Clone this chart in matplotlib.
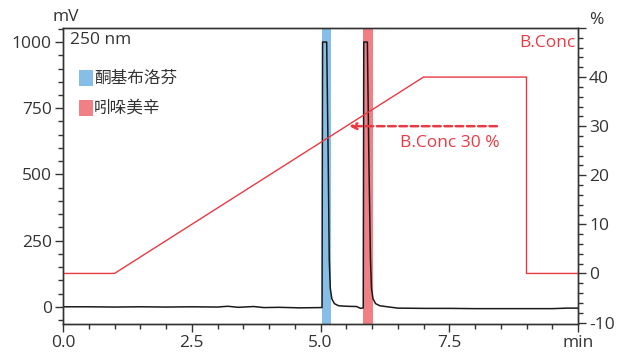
import matplotlib.pyplot as plt
from matplotlib.ticker import MultipleLocator

# chromatogram trace (min, mV)
time_min = [0.0, 0.5, 1.0, 1.5, 2.0, 2.5, 3.0, 3.2, 3.4, 3.7, 3.9, 4.2, 4.6, 5.0, 5.03,
            5.04, 5.12, 5.15, 5.17, 5.19, 5.22, 5.27, 5.35, 5.5, 5.7, 5.78, 5.83,
            5.84, 5.91, 5.94, 5.97, 5.99, 6.02, 6.07, 6.15, 6.3, 6.5, 7.0, 7.5, 8.0,
            8.5, 9.0, 9.5, 9.8, 10.0]
signal_mv = [0, 0, -1, 0, -1, 0, -1, 2, -2, 1, -3, -2, -4, -3, -3,
             1000, 1000, 550, 180, 70, 30, 12, 4, 2, 1, -6, -4,
             1000, 1000, 550, 180, 70, 30, 12, 4, 0, -5, -6, -6, -7,
             -7, -7, -7, -5, -5]

# gradient program (min, %B)
grad_time = [0.0, 1.0, 7.0, 9.0, 9.0, 10.0]
grad_conc = [0, 0, 40, 40, 0, 0]

# peak windows (min)
peak_names = ['酮基布洛芬', '吲哚美辛']
peak_start = [5.025, 5.83]
peak_end = [5.20, 6.01]
peak_colors = ['#86bee8', '#f07f86']

text_c = '#333333'
red = '#e83a44'
plt.rcParams['font.family'] = ['Open Sans', 'Noto Sans CJK SC', 'DejaVu Sans']

fig = plt.figure(figsize=(6.17, 3.53), dpi=100)
ax = fig.add_axes([63 / 617, 1 - 324 / 353, (578 - 63) / 617, (324 - 28) / 353])

for s, e, c in zip(peak_start, peak_end, peak_colors):
    ax.axvspan(s, e, color=c, lw=0, zorder=1)
ax.plot(time_min, signal_mv, color='#1a1a1a', lw=1.1, zorder=3)

ax.set_xlim(0, 10)
ax.set_ylim(-65, 1053)
ax.xaxis.set_minor_locator(MultipleLocator(0.5))
ax.yaxis.set_minor_locator(MultipleLocator(50))
ax.set_xticks([0, 2.5, 5.0, 7.5, 10.0])
ax.set_xticklabels(['0.0', '2.5', '5.0', '7.5', 'min'])
ax.set_yticks([0, 250, 500, 750, 1000])

ax2 = ax.twinx()
ax2.plot(grad_time, grad_conc, color=red, lw=1.0, zorder=2)
ax2.set_ylim(-10.3, 50)
ax2.yaxis.set_minor_locator(MultipleLocator(2))
ax2.set_yticks([-10, 0, 10, 20, 30, 40, 50])
ax2.set_yticklabels(['-10', '0', '10', '20', '30', '40', ''])

for a in (ax, ax2):
    for sp in a.spines.values():
        sp.set_color('#333333')
        sp.set_linewidth(1.0)
    a.tick_params(which='major', length=6, width=1, colors=text_c, labelsize=12.5, pad=2)
    a.tick_params(which='minor', length=3.5, width=1, colors=text_c)

ax.text(0.006, 1.01, 'mV', transform=ax.transAxes, ha='center', va='bottom',
        fontsize=12.5, color=text_c)
ax2.text(1.022, 1.0, '%', transform=ax2.transAxes, ha='left', va='bottom',
         fontsize=12.5, color=text_c)

ax.text(0.013, 0.985, '250 nm', transform=ax.transAxes, ha='left', va='top',
        fontsize=12.5, color=text_c)

# legend squares
for i, (name, c) in enumerate(zip(peak_names, peak_colors)):
    y = 0.831 - i * 0.101
    ax.add_patch(plt.Rectangle((0.031, y - 0.027), 0.027, 0.054, transform=ax.transAxes,
                               color=c, lw=0, zorder=4))
    ax.text(0.06, y, name, transform=ax.transAxes, ha='left', va='center',
            fontsize=12, color=text_c, family=['Noto Sans CJK SC', 'DejaVu Sans'])

ax2.text(0.995, 0.975, 'B.Conc', transform=ax2.transAxes, ha='right', va='top',
         fontsize=12.5, color=red)

ax2.annotate('', xy=(5.5, 30), xytext=(8.48, 30),
             arrowprops=dict(arrowstyle='->', color=red, lw=1.8, linestyle=(0, (3, 1.5))))
ax2.text(8.48, 28.3, 'B.Conc 30 %', ha='right', va='top', fontsize=12.5, color=red)

fig.savefig('out.png', dpi=100)
